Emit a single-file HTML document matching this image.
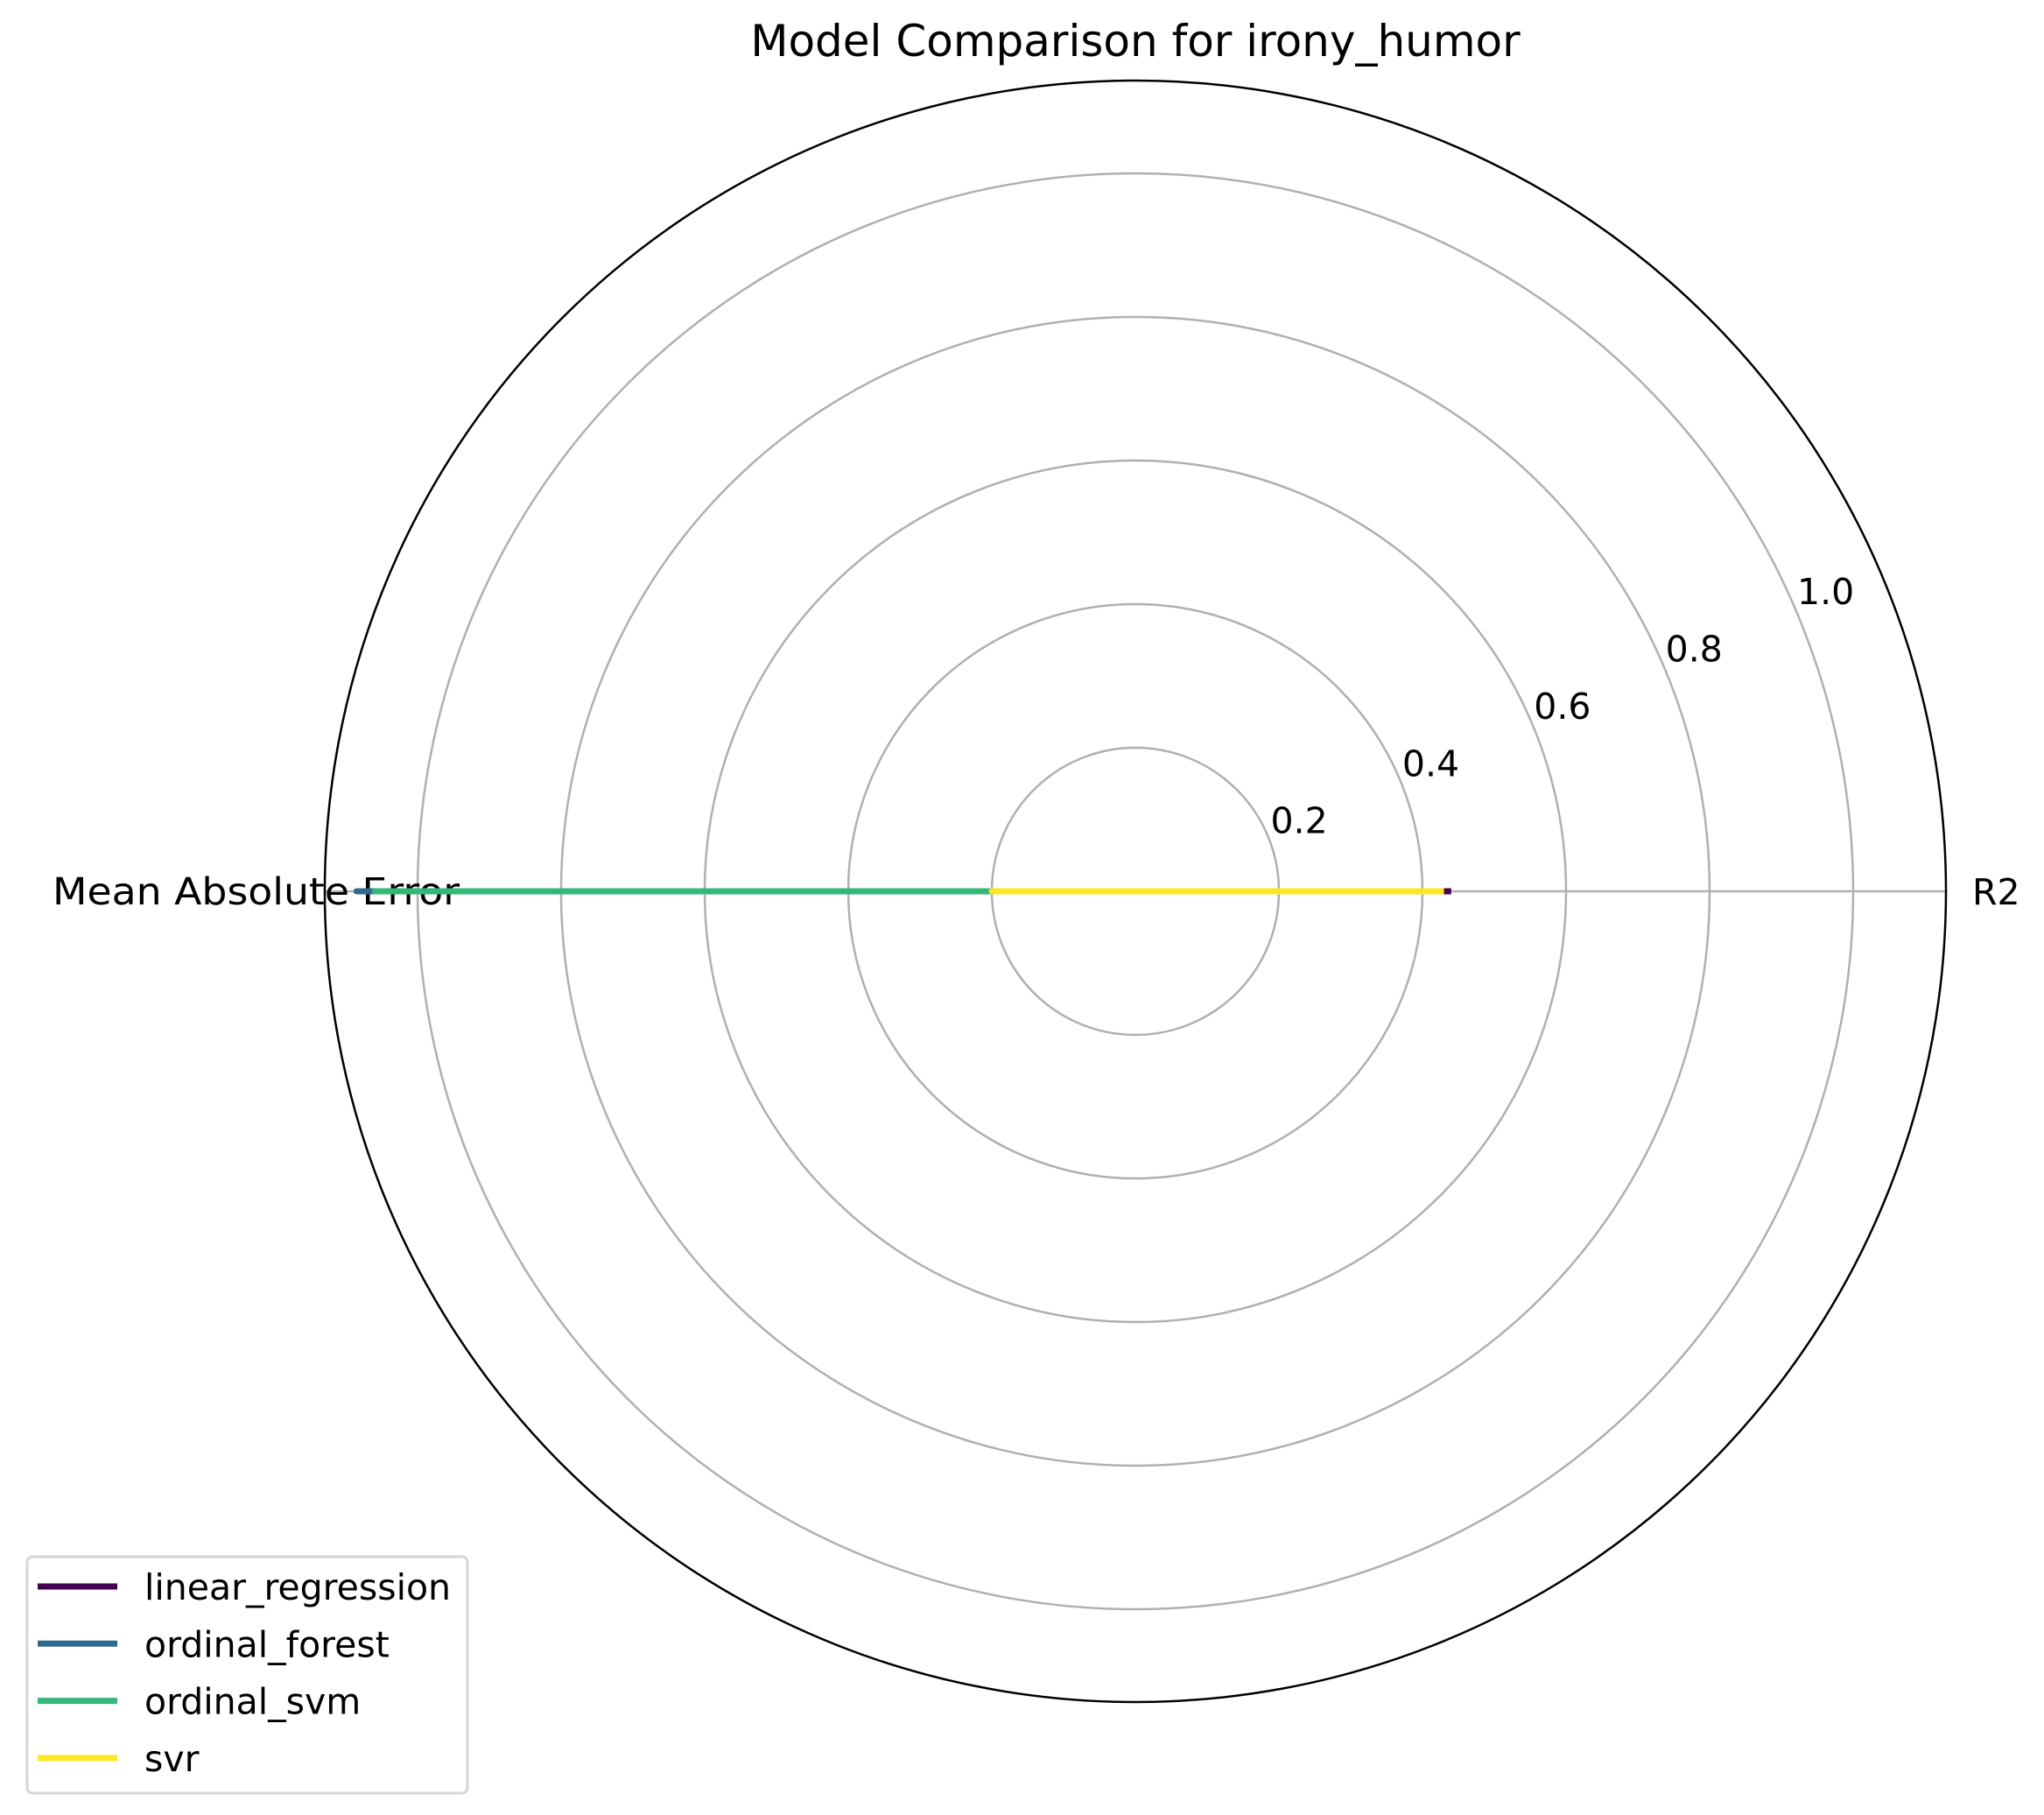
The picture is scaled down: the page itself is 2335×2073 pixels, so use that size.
<!DOCTYPE html>
<html><head><meta charset="utf-8"><style>
html,body{margin:0;padding:0;background:#fff;}
svg{display:block;font-family:"DejaVu Sans","Liberation Sans",sans-serif;}
</style></head><body>
<svg id="chart" width="2335" height="2073" viewBox="0 0 2335 2073" xmlns="http://www.w3.org/2000/svg">
<text x="1297" y="64" font-size="50" text-anchor="middle">Model Comparison for irony_humor</text>
<g id="grid"></g>
<g id="series"></g>
<g id="legend"></g>
</svg>
<script>
const metrics = ["R2", "Mean Absolute Error"];
const models = ["linear_regression", "ordinal_forest", "ordinal_svm", "svr"];
const r2Values = [0.44, -0.12, -0.18, 0.43];
const maeValues = [0.19, 1.085, 1.06, 0.2];
const rTicks = [0.2, 0.4, 0.6, 0.8, 1.0];
const tickLabels = ["0.2", "0.4", "0.6", "0.8", "1.0"];
const colors = ["#440154", "#31688e", "#35b779", "#fde725"];

const NS = "http://www.w3.org/2000/svg";
const cx = 1297, cy = 1018, unit = 820, outerR = 926;
const angles = [0, Math.PI];
function rScale(v){ return v * unit; }
function pt(v, a){ const r = rScale(v); return [cx + r*Math.cos(a), cy - r*Math.sin(a)]; }
function mk(tag, attrs, parent){ const e = document.createElementNS(NS, tag); for (const k in attrs) e.setAttribute(k, attrs[k]); parent.appendChild(e); return e; }

const grid = document.getElementById('grid');
rTicks.forEach((t, i) => {
  const c = mk('circle', {cx:cx, cy:cy, r:rScale(t), fill:'none', stroke:'#b0b0b0', 'stroke-width':2.5}, grid);
  
  
  const la = 23.5*Math.PI/180, lr = rScale(t) + 40;
  const tx = mk('text', {x:cx + lr*Math.cos(la), y:cy - lr*Math.sin(la) + 15, 'font-size':41, 'text-anchor':'middle'}, grid);
  tx.textContent = tickLabels[i];
  
  
});
angles.forEach((a, i) => {
  const l = mk('line', {x1:cx, y1:cy, x2:cx + outerR*Math.cos(a), y2:cy - outerR*Math.sin(a), stroke:'#b0b0b0', 'stroke-width':2.5}, grid);
  
  
});
const oc = mk('circle', {cx:cx, cy:cy, r:outerR, fill:'none', stroke:'#000', 'stroke-width':2.5}, grid);


const l1 = mk('text', {x:cx + outerR + 30, y:cy + 15, 'font-size':41}, grid);
l1.textContent = metrics[0];


const l2 = mk('text', {x:60, y:cy + 15, 'font-size':43, textLength:465, lengthAdjust:'spacingAndGlyphs'}, grid);
l2.textContent = metrics[1];



const series = document.getElementById('series');
models.forEach((m, i) => {
  const p1 = pt(r2Values[i], angles[0]), p2 = pt(maeValues[i], angles[1]);
  const pl = mk('polyline', {points:[p1, p2, p1].map(p => p.join(',')).join(' '), fill:'none', stroke:colors[i], 'stroke-width':7, 'stroke-linejoin':'round'}, series);
  
  
});

const lg = document.getElementById('legend');
const box = mk('rect', {x:31, y:1778, width:503, height:270, rx:6, fill:'#fff', stroke:'#d6d6d6', 'stroke-width':3}, lg);


models.forEach((m, i) => {
  const y = 1812 + i*65.3;
  const g = mk('g', {}, lg);
  
  
  mk('line', {x1:43, y1:y, x2:134, y2:y, stroke:colors[i], 'stroke-width':7}, g);
  const t = mk('text', {x:165, y:y + 15, 'font-size':41}, g);
  t.textContent = m;
});
</script>
</body></html>
